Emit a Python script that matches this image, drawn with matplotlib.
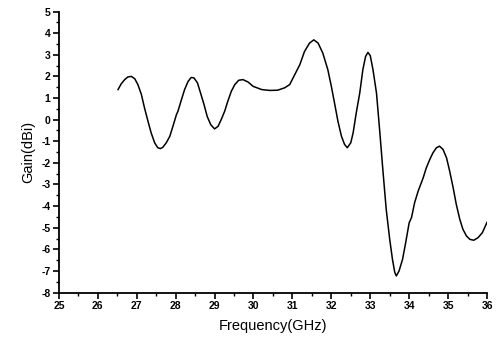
import matplotlib
matplotlib.use("Agg")
import matplotlib.pyplot as plt
from matplotlib.ticker import MultipleLocator

freq = [26.52, 26.60, 26.69, 26.77, 26.86, 26.95, 27.03, 27.12, 27.20, 27.29,
        27.37, 27.46, 27.54, 27.61, 27.67, 27.76, 27.85, 27.93, 28.02, 28.06,
        28.15, 28.23, 28.32, 28.40, 28.47, 28.56, 28.64, 28.73, 28.81, 28.90,
        29.00, 29.09, 29.17, 29.26, 29.34, 29.43, 29.52, 29.62, 29.73, 29.86,
        29.99, 30.21, 30.42, 30.62, 30.80, 30.93, 31.06, 31.19, 31.31, 31.44,
        31.55, 31.66, 31.78, 31.91, 32.00, 32.09, 32.17, 32.26, 32.34, 32.41,
        32.50, 32.56, 32.64, 32.73, 32.81, 32.88, 32.94, 33.00, 33.07, 33.16,
        33.24, 33.33, 33.41, 33.50, 33.57, 33.63, 33.67, 33.74, 33.83, 33.91,
        34.00, 34.06, 34.14, 34.23, 34.36, 34.44, 34.53, 34.61, 34.70, 34.78,
        34.87, 34.96, 35.04, 35.13, 35.21, 35.30, 35.38, 35.47, 35.56, 35.66,
        35.77, 35.88, 36.00]
gain = [1.39, 1.65, 1.85, 1.97, 2.00, 1.89, 1.62, 1.16, 0.54, -0.08,
        -0.61, -1.07, -1.30, -1.34, -1.28, -1.07, -0.77, -0.31, 0.23, 0.39,
        0.93, 1.39, 1.77, 1.95, 1.93, 1.70, 1.23, 0.69, 0.15, -0.23,
        -0.43, -0.31, 0.00, 0.39, 0.85, 1.31, 1.62, 1.82, 1.85, 1.74,
        1.54, 1.39, 1.35, 1.36, 1.47, 1.62, 2.08, 2.54, 3.15, 3.54,
        3.69, 3.54, 3.08, 2.31, 1.54, 0.69, -0.08, -0.77, -1.15, -1.30,
        -1.07, -0.61, 0.31, 1.23, 2.31, 2.92, 3.11, 2.96, 2.31, 1.23,
        -0.46, -2.46, -4.15, -5.54, -6.46, -7.07, -7.23, -7.00, -6.46, -5.69,
        -4.77, -4.53, -3.84, -3.31, -2.69, -2.23, -1.84, -1.54, -1.30, -1.23,
        -1.38, -1.77, -2.38, -3.15, -3.92, -4.61, -5.07, -5.38, -5.54, -5.58,
        -5.46, -5.23, -4.75]

xticks = list(range(25, 37))
yticks = list(range(-8, 6))

plt.rcParams['font.family'] = ['Liberation Sans', 'DejaVu Sans']

fig = plt.figure(figsize=(4.99, 3.39), dpi=100)
ax = fig.add_axes([0.118, 0.137, 0.858, 0.829])
ax.plot(freq, gain, color='black', lw=1.1, solid_joinstyle='round')
ax.set_xlim(25, 36)
ax.set_ylim(-8, 5)
ax.set_xticks(xticks)
ax.set_yticks(yticks)
ax.set_xticklabels([str(t) for t in xticks], fontweight='bold', fontsize=7.5)
ax.set_yticklabels([str(t) for t in yticks], fontweight='bold', fontsize=7.5)
ax.xaxis.set_minor_locator(MultipleLocator(0.5))
ax.yaxis.set_minor_locator(MultipleLocator(0.5))
ax.tick_params(which='major', direction='out', length=4, width=1.2, pad=2)
ax.tick_params(which='minor', direction='out', length=2, width=1)
for s in ['top', 'right']:
    ax.spines[s].set_visible(False)
for s in ['left', 'bottom']:
    ax.spines[s].set_linewidth(1.3)
ax.set_xlabel('Frequency(GHz)', fontsize=10.5, labelpad=6)
ax.set_ylabel('Gain(dBi)', fontsize=10.5, labelpad=4)
fig.savefig('out.png', dpi=100)
